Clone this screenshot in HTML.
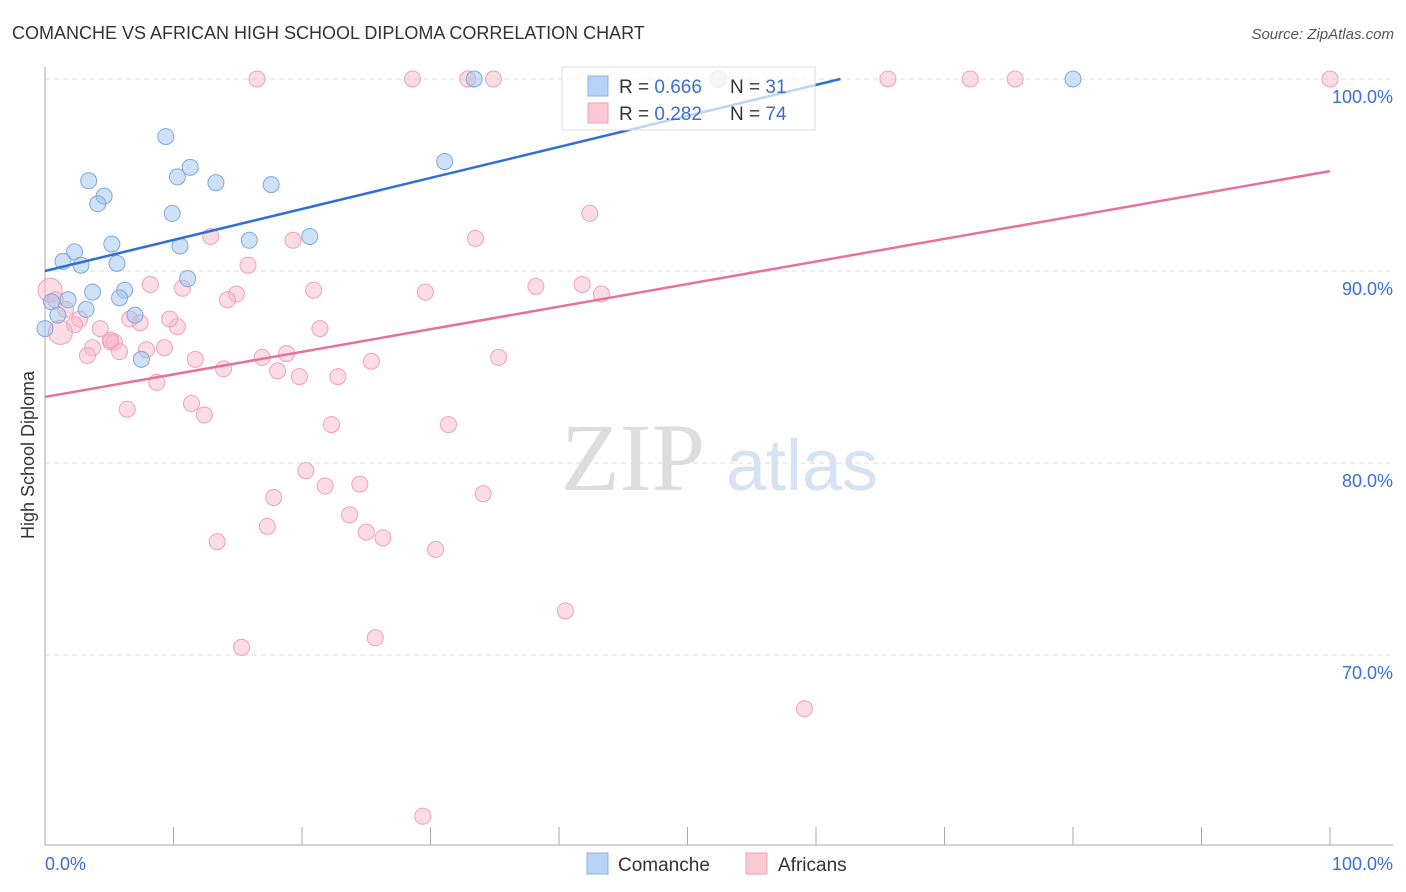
<!DOCTYPE html>
<html><head><meta charset="utf-8"><style>
body{margin:0;background:#fff;font-family:"Liberation Sans",sans-serif;}
svg{display:block}
</style></head><body>
<svg id="c" width="1406" height="892" xmlns="http://www.w3.org/2000/svg">
<text x="12" y="39" font-size="18" fill="#333">COMANCHE VS AFRICAN HIGH SCHOOL DIPLOMA CORRELATION CHART</text>
<text x="1394" y="39" font-size="15" fill="#555" font-style="italic" text-anchor="end">Source: ZipAtlas.com</text>
<text x="633" y="490" font-size="96" fill="#ddd" font-family="Liberation Serif" text-anchor="middle">ZIP</text>
<text x="802" y="490" font-size="72" fill="#d6e3f5" text-anchor="middle">atlas</text>
<text transform="translate(34,455) rotate(-90)" font-size="18" fill="#333" text-anchor="middle">High School Diploma</text>
<g id="grid"></g><g id="marks"></g>
<g>
<rect x="562" y="67" width="253" height="63" fill="rgba(255,255,255,0.7)" stroke="#ddd"/>
<rect x="588" y="76" width="20" height="20" fill="#b8d3f5" stroke="#8ab3e8"/>
<rect x="588" y="103" width="20" height="20" fill="#fbc8d6" stroke="#f0a0b8"/>
<text x="619" y="93" font-size="19" fill="#333">R = <tspan fill="#3a6fd0">0.666</tspan></text>
<text x="730" y="93" font-size="19" fill="#333">N = <tspan fill="#3a6fd0"> 31</tspan></text>
<text x="619" y="120" font-size="19" fill="#333">R = <tspan fill="#3a6fd0">0.282</tspan></text>
<text x="730" y="120" font-size="19" fill="#333">N = <tspan fill="#3a6fd0">74</tspan></text>
</g>
<g>
<rect x="587" y="853" width="21" height="21" fill="#b8d3f5" stroke="#8ab3e8"/>
<text x="618" y="871" font-size="19" fill="#333">Comanche</text>
<rect x="746" y="853" width="21" height="21" fill="#fbc8d6" stroke="#f0a0b8"/>
<text x="778" y="871" font-size="19" fill="#333">Africans</text>
</g>
</svg>
<script>
const yTicks=[100,90,80,70];
const yTickLabels=["100.0%","90.0%","80.0%","70.0%"];
const xTickLabels=["0.0%","100.0%"];
const comX=[9.4,3.4,10.3,11.3,13.3,17.6,4.6,4.1,9.9,31.1,33.4,80,5.2,10.5,15.9,20.6,2.3,1.4,2.8,5.6,11.1,3.7,6.2,1.8,5.8,0.5,3.2,1.0,7.0,7.5,0];
const comY=[97,94.7,94.9,95.4,94.6,94.5,93.9,93.5,93,95.7,100,100,91.4,91.3,91.6,91.8,91,90.5,90.3,90.4,89.6,88.9,89,88.5,88.6,88.4,88,87.7,87.7,85.4,87];
const afrX=[16.5,28.6,32.9,34.9,52.4,65.6,72,75.5,100,42.4,12.9,19.3,33.5,15.8,8.2,10.7,14.9,14.2,20.9,29.6,38.2,41.8,43.3,0.4,0.8,1.6,2.7,4.3,2.3,7.4,10.3,9.7,6.6,21.4,3.7,3.3,5.1,5.4,5.8,7.9,9.3,11.7,16.9,18.8,13.9,18.1,19.8,22.8,25.4,35.3,8.7,6.4,11.4,12.4,22.3,31.4,20.3,17.8,21.8,24.5,34.1,23.7,17.3,25,26.3,13.4,30.4,40.5,25.7,15.3,59.1,29.4,1.2,5.1];
const afrY=[100,100,100,100,100,100,100,100,100,93,91.8,91.6,91.7,90.3,89.3,89.1,88.8,88.5,89,88.9,89.2,89.3,88.8,89,88.5,88,87.5,87,87.2,87.3,87.1,87.5,87.5,87,86,85.6,86.3,86.3,85.8,85.9,86,85.4,85.5,85.7,84.9,84.8,84.5,84.5,85.3,85.5,84.2,82.8,83.1,82.5,82,82,79.6,78.2,78.8,78.9,78.4,77.3,76.7,76.4,76.1,75.9,75.5,72.3,70.9,70.4,67.2,61.6,86.8,86.4];
const comLine=[90,100],afrLine=[83.44,95.2];
const ns="http://www.w3.org/2000/svg";
const X=v=>45+v*12.85, Y=v=>79+(100-v)*19.2;
function mk(t,a,p){const e=document.createElementNS(ns,t);for(const k in a)e.setAttribute(k,a[k]);p.appendChild(e);return e;}
const grid=document.getElementById('grid'),marks=document.getElementById('marks');
yTicks.forEach((t,i)=>{
 const l=mk('line',{x1:45,x2:1393,y1:Y(t),y2:Y(t),stroke:'#ddd','stroke-dasharray':'5,4'},grid);
 
 
 const tx=mk('text',{x:1393,y:Y(t)+24,'font-size':18,fill:'#3a6fd0','text-anchor':'end'},grid);tx.textContent=yTickLabels[i];
 
 
});
const ax=mk('line',{x1:45,x2:45,y1:67,y2:845,stroke:'#aaa'},grid);


const bx=mk('line',{x1:45,x2:1393,y1:845,y2:845,stroke:'#aaa'},grid);


for(let i=0;i<=10;i++){const t=mk('line',{x1:X(i*10),x2:X(i*10),y1:827,y2:845,stroke:'#aaa'},grid);
 
 }
[[0,'start',45],[100,'end',1393]].forEach((d,i)=>{const t=mk('text',{x:d[2],y:870,'font-size':18,fill:'#3a6fd0','text-anchor':d[1]},grid);t.textContent=xTickLabels[i];
 
 });
afrX.forEach((x,i)=>{const c=mk('circle',{cx:X(x),cy:Y(afrY[i]),r:(i==23||i==72)?12:8,fill:'rgba(248,180,200,0.45)',stroke:'#f0a0b8','stroke-width':1},marks);
 
 });
comX.forEach((x,i)=>{const c=mk('circle',{cx:X(x),cy:Y(comY[i]),r:8,fill:'rgba(160,195,240,0.5)',stroke:'#7fa8e0','stroke-width':1},marks);
 
 });
const l1=mk('line',{x1:X(0),y1:Y(comLine[0]),x2:X(61.9),y2:Y(comLine[1]),stroke:'#2f6fd6','stroke-width':2.5},marks);


const l2=mk('line',{x1:X(0),y1:Y(afrLine[0]),x2:X(100),y2:Y(afrLine[1]),stroke:'#e8709a','stroke-width':2.5},marks);


</script>
</body></html>
